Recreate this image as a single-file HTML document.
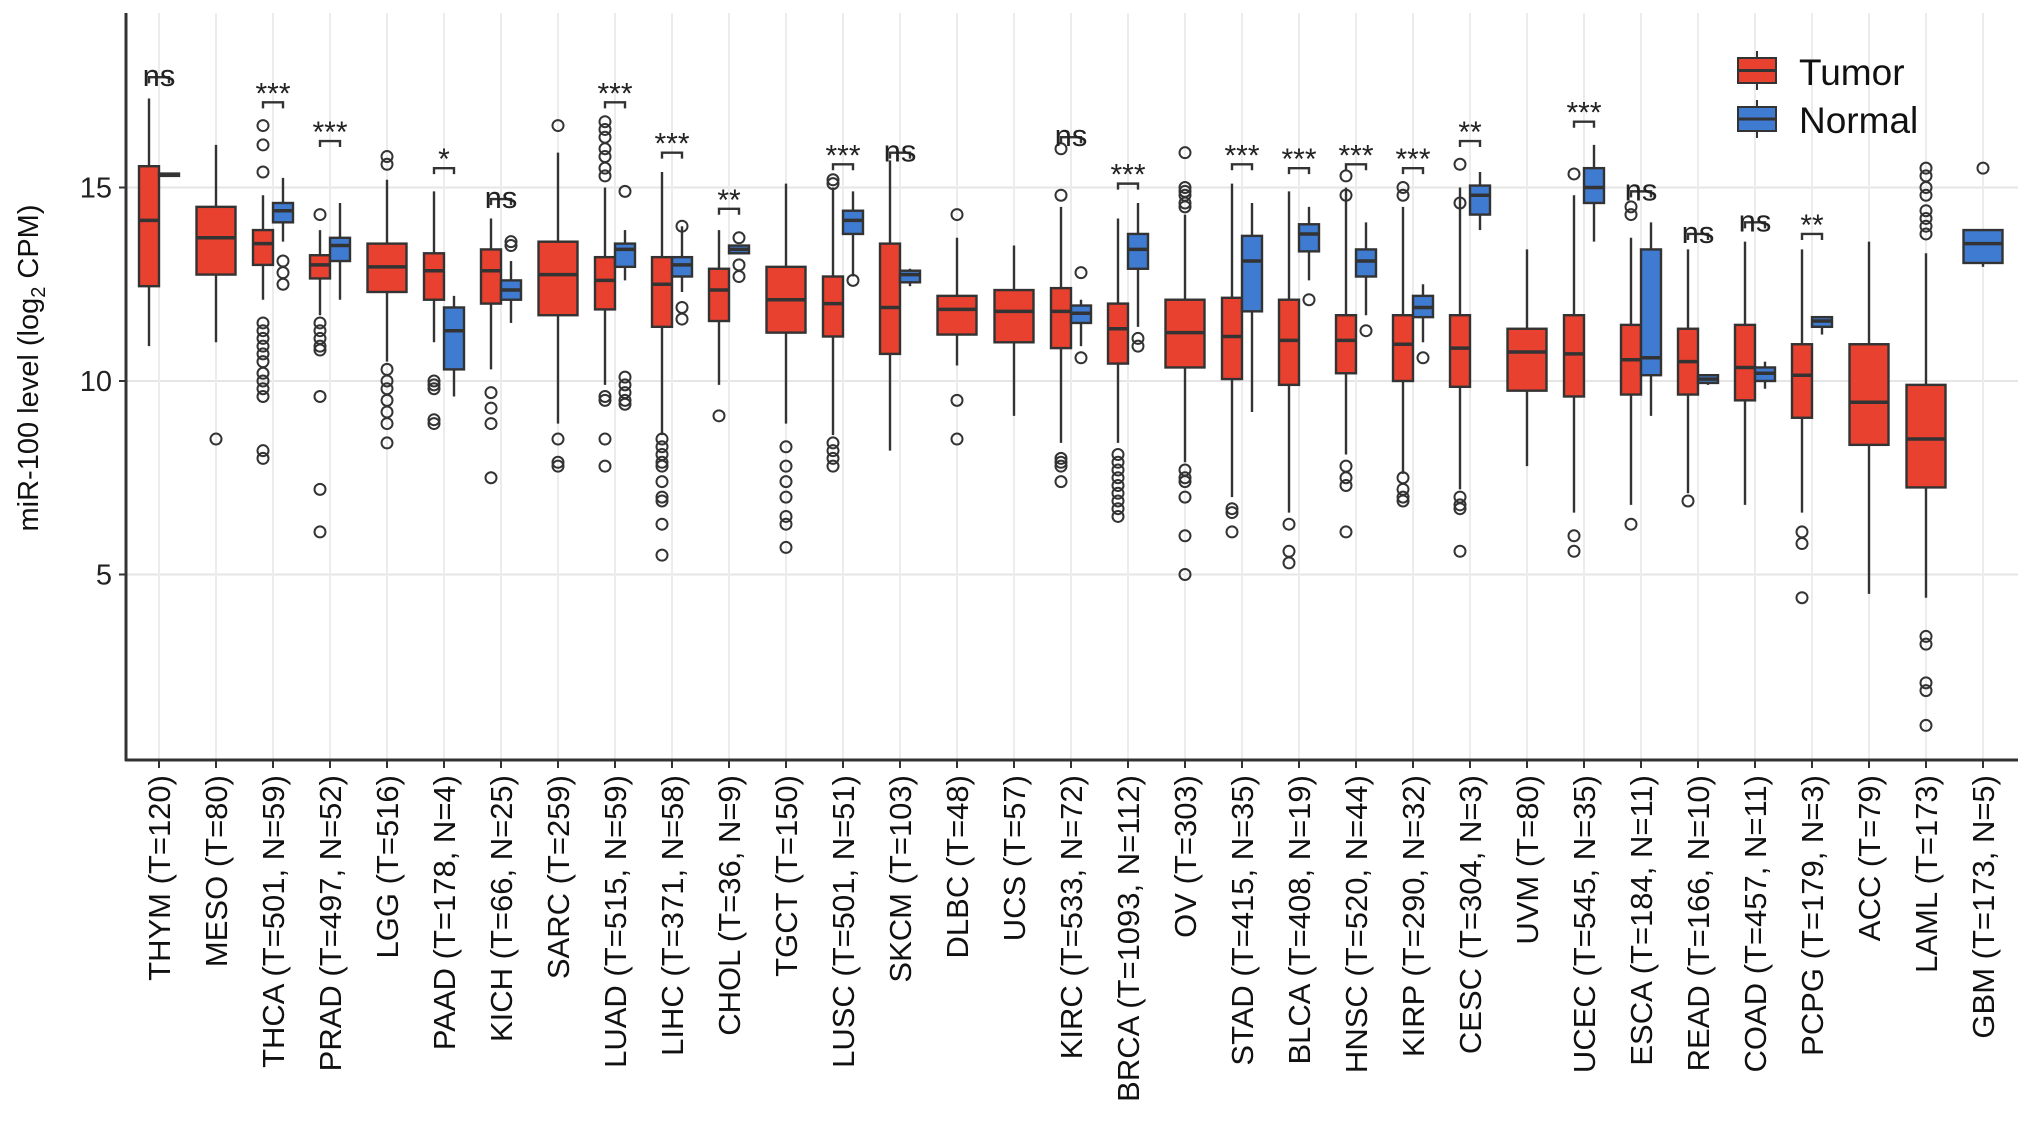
<!DOCTYPE html>
<html><head><meta charset="utf-8">
<style>
html,body{margin:0;padding:0;background:#fff;}
svg{display:block;font-family:"Liberation Sans",Arial,sans-serif;}
</style></head>
<body>
<svg id="chart" width="2032" height="1143" viewBox="0 0 2032 1143" xmlns="http://www.w3.org/2000/svg">
<g id="grid"></g>
<g id="plot"></g>
<g id="axes"></g>
<text x="0" y="0" transform="translate(38,368) rotate(-90)" text-anchor="middle" font-size="29" fill="#111">miR-100 level (log<tspan font-size="20" dy="7">2</tspan><tspan dy="-7"> CPM)</tspan></text>
<g>
  <g>
    <line x1="1757" y1="51" x2="1757" y2="90" stroke="#333" stroke-width="2"/>
    <rect x="1738" y="58" width="38" height="25" fill="#e8412f" stroke="#333" stroke-width="2"/>
    <line x1="1738" y1="70.5" x2="1776" y2="70.5" stroke="#333" stroke-width="3"/>
    <text x="1799" y="85" font-size="37" fill="#111">Tumor</text>
  </g>
  <g>
    <line x1="1757" y1="100" x2="1757" y2="138" stroke="#333" stroke-width="2"/>
    <rect x="1738" y="107" width="38" height="24" fill="#3f7bd0" stroke="#333" stroke-width="2"/>
    <line x1="1738" y1="119" x2="1776" y2="119" stroke="#333" stroke-width="3"/>
    <text x="1799" y="133" font-size="37" fill="#111">Normal</text>
  </g>
</g>
</svg>
<script>
const categories = ["THYM (T=120)","MESO (T=80)","THCA (T=501, N=59)","PRAD (T=497, N=52)","LGG (T=516)","PAAD (T=178, N=4)","KICH (T=66, N=25)","SARC (T=259)","LUAD (T=515, N=59)","LIHC (T=371, N=58)","CHOL (T=36, N=9)","TGCT (T=150)","LUSC (T=501, N=51)","SKCM (T=103)","DLBC (T=48)","UCS (T=57)","KIRC (T=533, N=72)","BRCA (T=1093, N=112)","OV (T=303)","STAD (T=415, N=35)","BLCA (T=408, N=19)","HNSC (T=520, N=44)","KIRP (T=290, N=32)","CESC (T=304, N=3)","UVM (T=80)","UCEC (T=545, N=35)","ESCA (T=184, N=11)","READ (T=166, N=10)","COAD (T=457, N=11)","PCPG (T=179, N=3)","ACC (T=79)","LAML (T=173)","GBM (T=173, N=5)"];
// [whiskerLow, q1, median, q3, whiskerHigh]
const tumorStats = [
 [10.9,12.45,14.15,15.55,17.3],[11.0,12.75,13.7,14.5,16.1],[12.1,13.0,13.55,13.9,14.8],[11.7,12.65,13.0,13.25,13.9],
 [10.5,12.3,12.95,13.55,15.2],[11.0,12.1,12.85,13.3,14.9],[10.3,12.0,12.85,13.4,14.2],[8.9,11.7,12.75,13.6,15.9],
 [9.9,11.85,12.6,13.2,15.0],[8.6,11.4,12.5,13.2,15.4],[9.9,11.55,12.35,12.9,13.9],[8.9,11.25,12.1,12.95,15.1],
 [8.6,11.15,12.0,12.7,15.0],[8.2,10.7,11.9,13.55,15.7],[10.4,11.2,11.85,12.2,13.7],[9.1,11.0,11.8,12.35,13.5],
 [8.4,10.85,11.8,12.4,14.5],[8.4,10.45,11.35,12.0,14.2],[7.9,10.35,11.25,12.1,14.3],[7.0,10.05,11.15,12.15,15.1],
 [6.6,9.9,11.05,12.1,14.9],[8.1,10.2,11.05,11.7,15.0],[7.6,10.0,10.95,11.7,14.5],[7.2,9.85,10.85,11.7,15.0],
 [7.8,9.75,10.75,11.35,13.4],[6.6,9.6,10.7,11.7,14.8],[6.8,9.65,10.55,11.45,13.7],[7.1,9.65,10.5,11.35,13.4],
 [6.8,9.5,10.35,11.45,13.6],[6.6,9.05,10.15,10.95,13.4],[4.5,8.35,9.45,10.95,13.6],[4.4,7.25,8.5,9.9,13.3],null];
const normalStats = [
 [15.3,15.3,15.33,15.36,15.36],null,[13.6,14.1,14.4,14.6,15.25],[12.1,13.1,13.5,13.7,14.6],null,
 [9.6,10.3,11.3,11.9,12.2],[11.5,12.1,12.35,12.6,13.1],null,[12.6,12.95,13.4,13.55,13.9],[12.3,12.7,13.0,13.2,14.0],
 [13.3,13.3,13.4,13.5,13.5],null,[12.7,13.8,14.15,14.4,14.9],[12.45,12.55,12.75,12.85,12.9],null,null,
 [10.9,11.5,11.75,11.95,12.1],[11.4,12.9,13.4,13.8,14.6],null,[9.2,11.8,13.1,13.75,14.6],[12.6,13.35,13.8,14.05,14.5],
 [11.7,12.7,13.1,13.4,14.1],[11.0,11.65,11.9,12.2,12.5],[13.9,14.3,14.8,15.05,15.4],null,[13.6,14.6,15.0,15.5,16.1],
 [9.1,10.15,10.6,13.4,14.1],[9.9,9.95,10.05,10.15,10.1],[9.8,10.0,10.2,10.35,10.5],[11.2,11.4,11.55,11.65,11.65],
 null,null,[12.95,13.05,13.55,13.9,13.9]];
const tumorOutliers = [[],[8.5],[16.6,16.1,15.4,11.5,11.3,11.1,10.9,10.7,10.5,10.2,10.0,9.8,9.6,8.2,8.0],[14.3,11.5,11.3,11.1,10.9,10.8,9.6,7.2,6.1],
 [15.8,15.6,10.3,10.0,9.8,9.5,9.2,8.9,8.4],[10.0,9.9,9.8,9.0,8.9],[9.7,9.3,8.9,7.5],[16.6,8.5,7.9,7.8],
 [16.7,16.5,16.3,16.0,15.8,15.5,15.3,9.6,9.5,8.5,7.8],[8.5,8.3,8.1,7.9,7.8,7.4,7.0,6.9,6.3,5.5],[9.1],[8.3,7.8,7.4,7.0,6.5,6.3,5.7],
 [15.2,15.1,8.4,8.2,8.0,7.8],[],[14.3,9.5,8.5],[],[16.0,14.8,8.0,7.9,7.8,7.4],[8.1,7.9,7.7,7.5,7.3,7.1,6.9,6.7,6.5],
 [15.9,15.0,14.9,14.8,14.6,14.5,7.7,7.5,7.4,7.0,6.0,5.0],[6.7,6.6,6.1],[6.3,5.6,5.3],[15.3,14.8,7.8,7.5,7.3,6.1],
 [15.0,14.8,7.5,7.2,7.0,6.9],[15.6,14.6,7.0,6.8,6.7,5.6],[],[15.35,6.0,5.6],[14.5,14.3,6.3],[6.9],[],[6.1,5.8,4.4],[],
 [15.5,15.3,15.0,14.8,14.4,14.2,14.0,13.8,3.4,3.2,2.2,2.0,1.1],[]];
const normalOutliers = [[],[],[13.1,12.8,12.5],[],[],[],[13.6,13.5],[],[14.9,10.1,9.9,9.7,9.5,9.4],[14.0,11.9,11.6],[13.7,13.0,12.7],[],[12.6],[],[],[],
 [12.8,10.6],[11.1,10.9],[],[],[12.1],[11.3],[10.6],[],[],[],[],[],[],[],[],[],[15.5]];
const sigLabels = ["ns","","***","***","","*","ns","","***","***","**","","***","ns","","","ns","***","","***","***","***","***","**","","***","ns","ns","ns","**","","",""];
const sigLevel = [17.85,0,17.2,16.2,0,15.5,14.7,0,17.2,15.9,14.45,0,15.6,15.9,0,0,16.3,15.1,0,15.6,15.5,15.6,15.5,16.2,0,16.7,14.9,13.8,14.1,13.8,0,0,0];
const yTicks = [5,10,15];

const NS="http://www.w3.org/2000/svg";
const X0=126, X1=2018, Y0=13, Y1=760;
const catX = i => 159 + i*57.0;
const yS = v => 381 - (v-10)*38.7;
function mk(tag, attrs, parent){const e=document.createElementNS(NS,tag);for(const k in attrs)e.setAttribute(k,attrs[k]);parent.appendChild(e);return e;}
const grid=document.getElementById('grid'), plot=document.getElementById('plot'), axes=document.getElementById('axes');

yTicks.forEach(t=>{
  const l=mk('line',{x1:X0,x2:X1,y1:yS(t),y2:yS(t),stroke:'#e6e6e6','stroke-width':2},grid);
  
  
  const tk=mk('line',{x1:X0-7,x2:X0,y1:yS(t),y2:yS(t),stroke:'#333','stroke-width':2},axes);
  
  
  const tx=mk('text',{x:X0-14,y:yS(t)+10,'text-anchor':'end','font-size':29,fill:'#222'},axes);
  tx.textContent=t;
  
  
});
categories.forEach((c,i)=>{
  const x=catX(i);
  const g=mk('line',{x1:x,x2:x,y1:Y0,y2:Y1,stroke:'#ececec','stroke-width':2},grid);
  
  
  const tk=mk('line',{x1:x,x2:x,y1:Y1,y2:Y1+8,stroke:'#333','stroke-width':2},axes);
  
  
  const tx=mk('text',{x:0,y:0,transform:`translate(${x+11},775) rotate(-90)`,'text-anchor':'end','font-size':31,fill:'#111'},axes);
  tx.textContent=c;
  
  
});
mk('line',{x1:X0,x2:X0,y1:Y0,y2:Y1+1,stroke:'#333','stroke-width':3},axes);
mk('line',{x1:X0-1,x2:X1,y1:Y1,y2:Y1,stroke:'#333','stroke-width':3},axes);

function drawBox(s, outs, cx, w, color, name){
  const g=mk('g',{},plot);
  
  
  mk('line',{x1:cx,x2:cx,y1:yS(s[0]),y2:yS(s[4]),stroke:'#333','stroke-width':2.4},g);
  const top=yS(s[3]), bot=yS(s[1]);
  mk('rect',{x:cx-w/2,y:top,width:w,height:Math.max(bot-top,2),fill:color,stroke:'#333','stroke-width':2.4},g);
  mk('line',{x1:cx-w/2,x2:cx+w/2,y1:yS(s[2]),y2:yS(s[2]),stroke:'#333','stroke-width':3.5},g);
  outs.forEach(o=>{mk('circle',{cx:cx,cy:yS(o),r:5.5,fill:'none',stroke:'#333','stroke-width':2},g);});
}
categories.forEach((c,i)=>{
  const x=catX(i), nm=c.split(' ')[0].toLowerCase();
  const t=tumorStats[i], n=normalStats[i];
  if(t && n){
    drawBox(t,tumorOutliers[i],x-10,20,'#e8412f','box-tumor-'+nm);
    drawBox(n,normalOutliers[i],x+10,20,'#3f7bd0','box-normal-'+nm);
  } else if(t){
    drawBox(t,tumorOutliers[i],x,39,'#e8412f','box-tumor-'+nm);
  } else if(n){
    drawBox(n,normalOutliers[i],x,39,'#3f7bd0','box-normal-'+nm);
  }
  if(sigLabels[i]){
    const yb=yS(sigLevel[i]);
    const br=mk('path',{d:`M${x-10},${yb+6} L${x-10},${yb} L${x+10},${yb} L${x+10},${yb+6}`,fill:'none',stroke:'#333','stroke-width':2.4},plot);
    
    
    const isNs=sigLabels[i]==='ns';
    const tx=mk('text',{x:x,y:isNs?yb+9:yb+1,'text-anchor':'middle','font-size':isNs?31:30,fill:'#222'},plot);
    tx.textContent=sigLabels[i];
    
    
  }
});
</script>
</body></html>
